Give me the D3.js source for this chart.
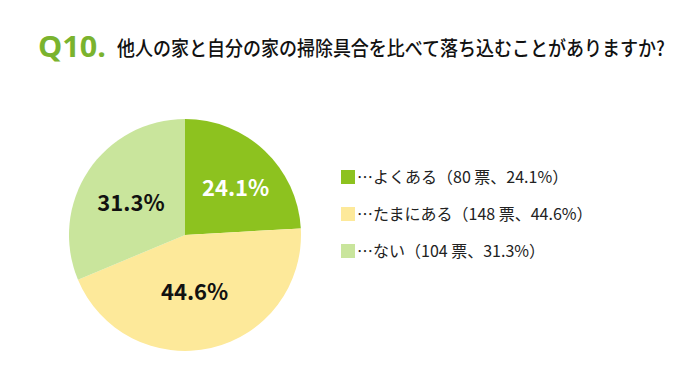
<!DOCTYPE html>
<html>
<head>
<meta charset="utf-8">
<script src="https://cdn.jsdelivr.net/npm/d3@7"></script>
<style>
  body { margin: 0; background: #fff; }
  svg { display: block; }
</style>
</head>
<body>
<div id="chart"></div>
<script>
// data
var categories = ["よくある", "たまにある", "ない"];
var votes = [80, 148, 104];
var percents = [24.1, 44.6, 31.3];
var colors = ["#8dc21f", "#fde99a", "#c9e59c"];
var labelColors = ["#ffffff", "#111111", "#111111"];

var width = 680, height = 379;
var cx = 185, cy = 235, radius = 116;

var svg = d3.select("#chart").append("svg")
    .attr("width", width)
    .attr("height", height);

// title
svg.append("text")
    .attr("x", 38).attr("y", 57)
    .attr("font-family", "'Open Sans', 'Noto Sans', sans-serif")
    .attr("font-weight", "bold")
    .attr("font-size", 29)
    .attr("fill", "#7ab32e")
    .attr("textLength", 68)
    .attr("lengthAdjust", "spacingAndGlyphs")
    .text("Q10.");

// condensed title, squeezed horizontally like the original
svg.append("g")
    .attr("transform", "translate(117,56) scale(0.9,1)")
  .append("text")
    .attr("x", 0).attr("y", 0)
    .attr("font-family", "'Noto Sans CJK JP', sans-serif")
    .attr("font-weight", 500)
    .attr("font-size", 20)
    .attr("fill", "#111")
    .text("他人の家と自分の家の掃除具合を比べて落ち込むことがありますか?");

// pie
var pie = d3.pie().sort(null).value(function(d){ return d; });
var arcs = pie(percents);
var arc = d3.arc().innerRadius(0).outerRadius(radius);

var g = svg.append("g").attr("transform", "translate(" + cx + "," + cy + ")");

g.selectAll("path")
    .data(arcs)
    .enter().append("path")
    .attr("d", arc)
    .attr("fill", function(d, i){ return colors[i]; });

var labelArc = d3.arc().innerRadius(radius * 0.56).outerRadius(radius * 0.56);
var labelShift = [[6, 0], [-5, -6], [0, 4]];
g.selectAll("text")
    .data(arcs)
    .enter().append("text")
    .attr("transform", function(d, i){
        var c = labelArc.centroid(d);
        return "translate(" + (c[0] + labelShift[i][0]) + "," + (c[1] + labelShift[i][1]) + ")";
    })
    .attr("text-anchor", "middle")
    .attr("dy", "0.36em")
    .attr("font-family", "'Noto Sans CJK JP', sans-serif")
    .attr("font-weight", "bold")
    .attr("font-size", 22)
    .attr("fill", function(d, i){ return labelColors[i]; })
    .text(function(d, i){ return percents[i].toFixed(1) + "%"; });

// legend
var legend = svg.selectAll("g.legend")
    .data(categories)
    .enter().append("g")
    .attr("class", "legend")
    .attr("transform", function(d, i){ return "translate(341," + (170 + i * 37) + ")"; });

legend.append("rect")
    .attr("width", 14).attr("height", 14)
    .attr("fill", function(d, i){ return colors[i]; });

legend.append("text")
    .attr("x", 16).attr("y", 13)
    .attr("font-family", "'Noto Sans CJK JP', sans-serif")
    .attr("font-size", 16)
    .attr("fill", "#222")
    .text(function(d, i){
        return "…" + d + "（" + votes[i] + " 票、" + percents[i].toFixed(1) + "%）";
    });
</script>
</body>
</html>
